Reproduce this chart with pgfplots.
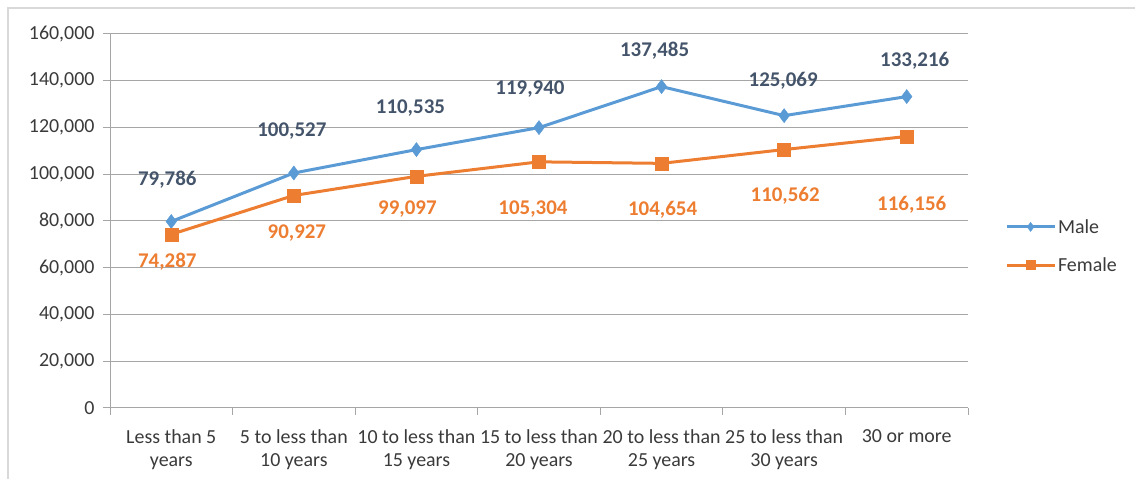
\documentclass[border=0pt]{standalone}
\usepackage{pgfplots}
\pgfplotsset{compat=1.18}
\usepackage{pgfplotstable}
\usepackage{fontspec}
\setmainfont{Carlito}
\definecolor{malec}{HTML}{5B9BD5}
\definecolor{femc}{HTML}{ED7D31}
\definecolor{lblc}{HTML}{44546A}
\definecolor{axc}{HTML}{A6A6A6}
\definecolor{txtc}{HTML}{3A3A3A}
\definecolor{framec}{HTML}{D9D9D9}

\pgfplotstableread{
x y dx dy
0 79786 -4 41.5
1 100527 -2 42
2 110535 -6 41.6
3 119940 -9 38.6
4 137485 -7 35.6
5 125069 -1 34.7
6 133216 8 35.6
}\maletab
\pgfplotstableread{
x y dx dy
0 74287 -4 -27.6
1 90927 3 -37.5
2 99097 -9 -32.6
3 105304 -6 -47.1
4 104654 1 -46.6
5 110562 1 -46.4
6 116156 5 -68.5
}\femtab

\begin{document}
\begin{tikzpicture}[x=1bp,y=1bp]
\path[use as bounding box] (0,0) rectangle (1135,479);
\draw[framec, line width=1.5bp] (8,0) -- (8,471) -- (1135,471);
\begin{axis}[
  at={(110bp,71bp)}, anchor=south west,
  scale only axis, width=858bp, height=374bp,
  xmin=-0.5, xmax=6.5, ymin=0, ymax=160000,
  axis x line*=bottom, axis y line*=left,
  axis line style={axc, line width=1bp},
  ytick={0,20000,...,160000},
  scaled y ticks=false,
  yticklabel style={xshift=-5bp, /pgf/number format/.cd, fixed, precision=0, 1000 sep={,}, assume math mode=true},
  ymajorgrids, grid style={axc, line width=1bp},
  tick align=outside, major tick length=7bp,
  tick style={axc, line width=1bp},
  xtick={-0.5,0.5,...,6.5}, xticklabels={},
  extra x ticks={0,1,2,3,4,5,6},
  extra x tick labels={Less than 5\\years, 5 to less than\\10 years, 10 to less than\\15 years, 15 to less than\\20 years, 20 to less than\\25 years, 25 to less than\\30 years, 30 or more\\\strut},
  extra x tick style={major tick length=0pt, grid=none},
  xticklabel style={align=center, yshift=-18bp},
  ticklabel style={font=\fontsize{20}{23}\selectfont, text=txtc},
  nodes near coords={\pgfmathprintnumber[fixed, precision=0, 1000 sep={,}, assume math mode=true]{\pgfplotspointmeta}},
  point meta=y,
  legend style={at={(1.043,0.433)}, anchor=west, draw=none, fill=none,
    font=\fontsize{20}{23}\selectfont, text=txtc, row sep=19bp,
    cells={anchor=west}, inner sep=0pt},
  legend image code/.code={\draw[#1, line width=3bp, mark size=4.5bp, mark repeat=2, mark phase=2] plot coordinates {(0bp,0bp) (24bp,0bp) (48bp,0bp)};},
]
\addplot[malec, line width=3bp, mark=diamond*, mark size=7bp, mark options={fill=malec, draw=malec, line width=0.5bp},
  visualization depends on={\thisrow{dx} \as \mydx},
  visualization depends on={\thisrow{dy} \as \mydy},
  every node near coord/.append style={anchor=center, xshift=\mydx bp, yshift=\mydy bp, font=\fontsize{21}{24}\selectfont\bfseries, text=lblc}]
  table[x=x, y=y] {\maletab};
\addlegendentry{Male}
\addplot[femc, line width=3bp, mark=square*, mark size=6.5bp, mark options={fill=femc, draw=femc, line width=0.5bp},
  visualization depends on={\thisrow{dx} \as \mydx},
  visualization depends on={\thisrow{dy} \as \mydy},
  every node near coord/.append style={anchor=center, xshift=\mydx bp, yshift=\mydy bp, font=\fontsize{21}{24}\selectfont\bfseries, text=femc}]
  table[x=x, y=y] {\femtab};
\addlegendentry{Female}
\end{axis}
\end{tikzpicture}
\end{document}
